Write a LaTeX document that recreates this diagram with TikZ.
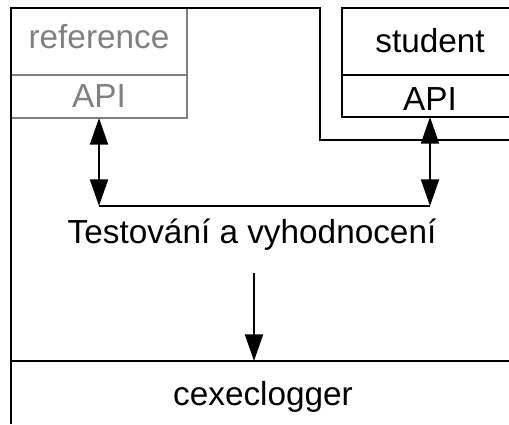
\documentclass[tikz,border=0pt]{standalone}
\usepackage{fontspec}
\setmainfont{Liberation Sans}
\usetikzlibrary{arrows.meta}

\tikzset{
	label/.style={anchor=base, inner sep=0pt, font=\fontsize{25}{30}\selectfont},
	greylabel/.style={label, text=gray},
	arr/.style={line width=1.5pt, -{Triangle[length=20pt, width=13.5pt]}},
	dblarr/.style={line width=1.5pt, {Triangle[length=20pt, width=13.5pt]}-{Triangle[length=20pt, width=13.5pt]}}
}

\begin{document}
\begin{tikzpicture}[x=0.75pt, y=-0.75pt, line width=1.5pt]
	\clip (0, 0) rectangle (509, 424);
	% Referenzloesung
	\draw[gray] (11, 8) rectangle (187, 118);
	\draw[gray] (11, 75) -- (187, 75);
	\node[greylabel] (ref) at (99, 49) {reference};
	\node[greylabel] (refapi) at (99, 108) {API};
	% Loesung des Studenten
	\draw (342, 8) rectangle (518, 117);
	\draw (342, 75) -- (518, 75);
	\node[label] (stud) at (430, 53) {student};
	\node[label] (studapi) at (430, 110) {API};
	% Rahmen
	\draw (11, 424) -- (11, 8) -- (320, 8) -- (320, 140) -- (520, 140);
	\draw (11, 361) -- (520, 361);
	% Testen
	\coordinate (refbot) at (99, 118);
	\coordinate (studbot) at (430, 117);
	\coordinate (refjoin) at (99, 206);
	\coordinate (studjoin) at (430, 206);
	\draw[dblarr] (refbot) -- (refjoin);
	\draw[dblarr] (studbot) -- (studjoin);
	\draw (refjoin) -- (studjoin);
	\node[label] (test) at (252, 243) {Testování a vyhodnocení};
	% Logger
	\node[label] (logger) at (263, 405) {cexeclogger};
	\coordinate (testbot) at (254, 273);
	\coordinate (loggertop) at (254, 361);
	\draw[arr] (testbot) -- (loggertop);
\end{tikzpicture}
\end{document}
